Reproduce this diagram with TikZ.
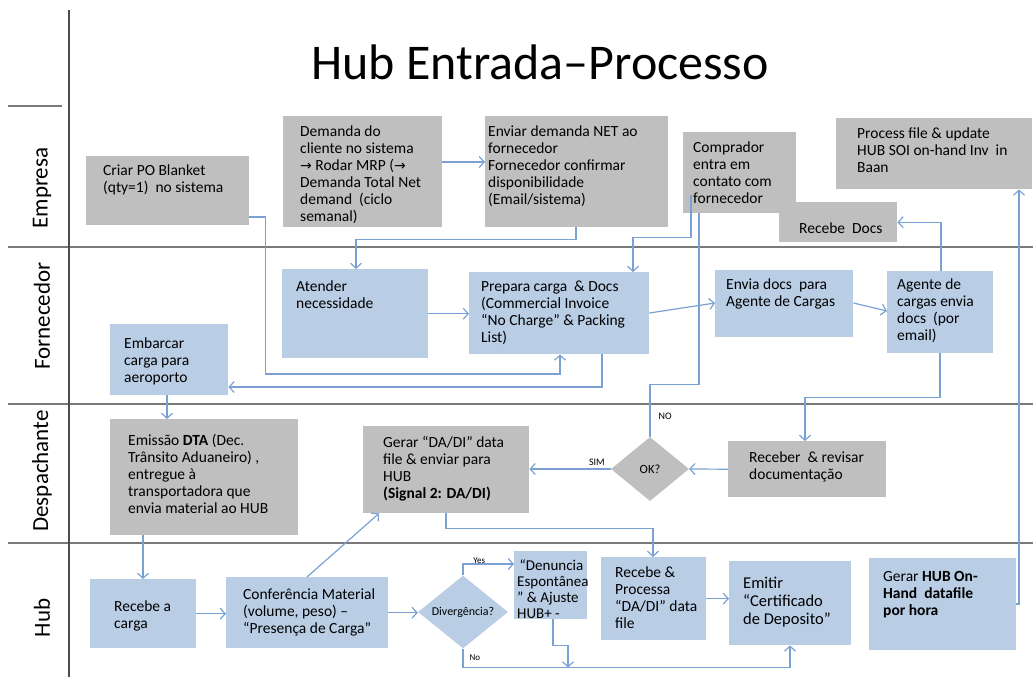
\documentclass[tikz,border=0pt]{standalone}
\usepackage{fontspec}
\setmainfont{Carlito}
\newfontfamily\arrowfont{DejaVu Sans}
\usetikzlibrary{arrows.meta,shapes.geometric,calc}
\definecolor{boxgray}{HTML}{BFBFBF}
\definecolor{boxblue}{HTML}{B9CDE5}
\definecolor{flowblue}{HTML}{79A1D3}
\definecolor{lanegray}{HTML}{7A7A7A}
\newcommand\flowarrow{{\arrowfont\fontsize{14}{17}\selectfont →}}

\begin{document}
\begin{tikzpicture}[x=1pt,y=-1pt,
  stepbox/.style={draw=none,inner sep=0,anchor=north west},
  graybox/.style={stepbox,fill=boxgray},
  bluebox/.style={stepbox,fill=boxblue},
  boxtext/.style={inner sep=0,anchor=north west,align=left,font=\fontsize{15.5}{17}\selectfont},
  decision/.style={diamond,inner sep=0,font=\fontsize{12.5}{14}\selectfont},
  flow/.style={draw=flowblue,line width=1.2pt,-{Straight Barb[length=5pt,width=11pt]}},
  link/.style={draw=flowblue,line width=1.2pt},
  lane/.style={draw=lanegray,line width=1.8pt},
  lanename/.style={rotate=90,font=\fontsize{23}{28}\selectfont,inner sep=0},
  flowlabel/.style={font=\fontsize{10}{12}\selectfont,inner sep=0}
]
\useasboundingbox (0,0) rectangle (1033,677);

% swimlane frame
\draw[lane] (8,106) -- (62,106);
\draw[lane] (8,247) -- (1033,247);
\draw[lane] (8,404) -- (1033,404);
\draw[lane] (8,543) -- (1033,543);
\draw[draw=black!70,line width=1.5pt] (69,10) -- (69,677);

\node[font=\fontsize{50}{60}\selectfont,inner sep=0] (title) at (540,62) {Hub Entrada–Processo};

\node[lanename] (l-emp) at (42,188) {Empresa};
\node[lanename] (l-for) at (42,316) {Fornecedor};
\node[lanename] (l-des) at (42,471) {Despachante};
\node[lanename] (l-hub) at (42,618) {Hub};

% Empresa
\node[graybox,minimum width=163pt,minimum height=69pt] (crp) at (86,156) {};
\node[boxtext] (crp-t) at (103,165) {Criar PO Blanket\\(qty=1)\ \ no sistema};
\node[graybox,minimum width=159pt,minimum height=111pt] (dem) at (283,116) {};
\node[boxtext] (dem-t) at (300,126) {Demanda do\\cliente no sistema\\\flowarrow{} Rodar MRP (\flowarrow\\Demanda Total Net\\demand\ \ (ciclo\\semanal)};
\node[graybox,minimum width=183pt,minimum height=111pt] (env) at (485,116) {};
\node[boxtext] (env-t) at (488,126) {Enviar demanda NET ao\\fornecedor\\Fornecedor confirmar\\disponibilidade\\(Email/sistema)};
\node[graybox,minimum width=118pt,minimum height=40pt] (recd) at (779,202) {};
\node[boxtext,anchor=west] (recd-t) at (799,228) {Recebe\ \ Docs};
\node[graybox,minimum width=113pt,minimum height=81pt] (comp) at (683,132) {};
\node[boxtext] (comp-t) at (693,142) {Comprador\\entra em\\contato com\\fornecedor};
\node[graybox,minimum width=196pt,minimum height=71pt] (proc) at (836,118) {};
\node[boxtext] (proc-t) at (857,128) {Process file \& update\\HUB SOI on-hand Inv\ \ in\\Baan};

% Fornecedor
\node[bluebox,minimum width=146pt,minimum height=89pt] (att) at (282,269) {};
\node[boxtext] (att-t) at (296,281) {Atender\\necessidade};
\node[bluebox,minimum width=180pt,minimum height=82pt] (prep) at (469,272) {};
\node[boxtext] (prep-t) at (481,281) {Prepara carga\ \ \& Docs\\(Commercial Invoice\\“No Charge” \& Packing\\List)};
\node[bluebox,minimum width=138pt,minimum height=67pt] (envd) at (715,270) {};
\node[boxtext] (envd-t) at (726,279) {Envia docs\ \ para\\Agente de Cargas};
\node[bluebox,minimum width=106pt,minimum height=82pt] (agt) at (887,271) {};
\node[boxtext] (agt-t) at (897,279) {Agente de\\cargas envia\\docs\ \ (por\\email)};
\node[bluebox,minimum width=118pt,minimum height=71pt] (emb) at (110,324) {};
\node[boxtext] (emb-t) at (124,338) {Embarcar\\carga para\\aeroporto};

% Despachante
\node[graybox,minimum width=188pt,minimum height=116pt] (emi) at (110,419) {};
\node[boxtext] (emi-t) at (128,434) {Emissão \textbf{DTA} (Dec.\\Trânsito Aduaneiro) ,\\entregue à\\transportadora que\\envia material ao HUB};
\node[graybox,minimum width=166pt,minimum height=87pt] (gdi) at (363,426) {};
\node[boxtext] (gdi-t) at (383,436) {Gerar “DA/DI” data\\file \& enviar para\\HUB\\\textbf{(Signal 2: DA/DI)}};
\node[decision,fill=boxgray,minimum width=78pt,minimum height=64pt] (ok) at (650,469) {OK?};
\node[graybox,minimum width=158pt,minimum height=56pt] (rcv) at (728,441) {};
\node[boxtext] (rcv-t) at (749,452) {Receber\ \ \& revisar\\documentação};

% Hub
\node[bluebox,minimum width=106pt,minimum height=69pt] (rca) at (90,579) {};
\node[boxtext] (rca-t) at (114,601) {Recebe a\\carga};
\node[bluebox,minimum width=162pt,minimum height=71pt] (conf) at (226,577) {};
\node[boxtext] (conf-t) at (243,589) {Conferência Material\\(volume, peso) –\\“Presença de Carga”};
\node[decision,fill=boxblue,minimum width=90pt,minimum height=70pt,font=\fontsize{12}{14}\selectfont] (div) at (463,612) {Divergência?};
\node[bluebox,minimum width=73pt,minimum height=68pt] (den) at (514,551) {};
\node[boxtext,font=\fontsize{15}{16}\selectfont] (den-t) at (517,559) {\,“Denuncia\\Espontânea\\” \& Ajuste\\HUB+ -};
\node[bluebox,minimum width=105pt,minimum height=83pt] (rpr) at (601,557) {};
\node[boxtext] (rpr-t) at (615,567) {Recebe \&\\Processa\\“DA/DI” data\\file};
\node[bluebox,minimum width=122pt,minimum height=84pt] (emt) at (729,561) {};
\node[boxtext,font=\fontsize{16.5}{18}\selectfont] (emt-t) at (743,577) {Emitir\\“Certificado\\de Deposito”};
\node[bluebox,minimum width=147pt,minimum height=92pt] (ghub) at (869,558) {};
\node[boxtext] (ghub-t) at (883,571) {Gerar \textbf{HUB On-}\\\textbf{Hand\ \ datafile}\\\textbf{por hora}};

\coordinate (nojoin) at ([xshift=105pt,yshift=-19pt]div.south);

% connectors
\draw[flow] ([yshift=-61pt]crp.north east) -- ++(16,0) -- ++(0,157) -| ([xshift=91pt]prep.south west);
\draw[flow] ([yshift=-46pt]dem.north east) -- ([yshift=-46pt]env.north west);
\draw[flow] ([xshift=91pt]env.south west) -- ++(0,12) -| ([xshift=74pt]att.north west);
\draw[flow] ([xshift=8pt,yshift=18pt]comp.south west) -- ++(0,42) -| ([xshift=164pt]prep.north west);
\draw[link] (ok.north) -- node[flowlabel,pos=0.4,right=8pt] {NO} ++(0,-52) -| ([xshift=16pt]comp.south west);
\draw[flow] (att.east) -- (att.east -| prep.west);
\draw[flow] ([yshift=-41pt]prep.north east) -- ([yshift=-33pt]envd.north west);
\draw[flow] ([yshift=-33pt]envd.north east) -- ([yshift=-40pt]agt.north west);
\draw[flow] ([xshift=53pt]agt.south west) -- ++(0,44) -| ([xshift=77pt]rcv.north west);
\draw[flow] ([xshift=54pt]agt.north west) |- (recd.east);
\draw[flow] ([yshift=-46pt]ghub.north east) -| ([xshift=183pt]proc.south west);
\draw[flow] ([xshift=133pt]prep.south west) |- ([yshift=-63pt]emb.north east);
\draw[flow] (rcv.west) -- (ok.east);
\draw[flow] (ok.west) -- node[flowlabel,pos=0.17,above=3pt] {SIM} (ok.west -| gdi.east);
\draw[flow] ([xshift=57pt]emb.south west) -- ([xshift=57pt]emi.north west);
\draw[flow] ([xshift=33pt]emi.south west) -- ([xshift=53pt]rca.north west);
\draw[flow] (rca.east) -- (rca.east -| conf.west);
\draw[flow] ([xshift=81pt]conf.north west) -- ([xshift=16pt]gdi.south west);
\draw[flow] (conf.east) -- (conf.east -| div.west);
\draw[flow] (div.north) |- node[flowlabel,font=\fontsize{9}{11}\selectfont,pos=0.66,yshift=3pt] {Yes} ([yshift=-13pt]den.north west);
\draw[flow] (div.south) -- node[flowlabel,font=\fontsize{9}{11}\selectfont,right=6pt] {No} (nojoin -| div.south) -| ([xshift=61pt]emt.south west);
\draw[flow] ([xshift=39pt]den.south west) -- ++(0,26) -| (nojoin);
\draw[flow] ([xshift=83pt]gdi.south west) -- ++(0,15) -| ([xshift=52pt]rpr.north west);
\draw[flow] (rpr.east) -- (rpr.east -| emt.west);
\end{tikzpicture}
\end{document}
